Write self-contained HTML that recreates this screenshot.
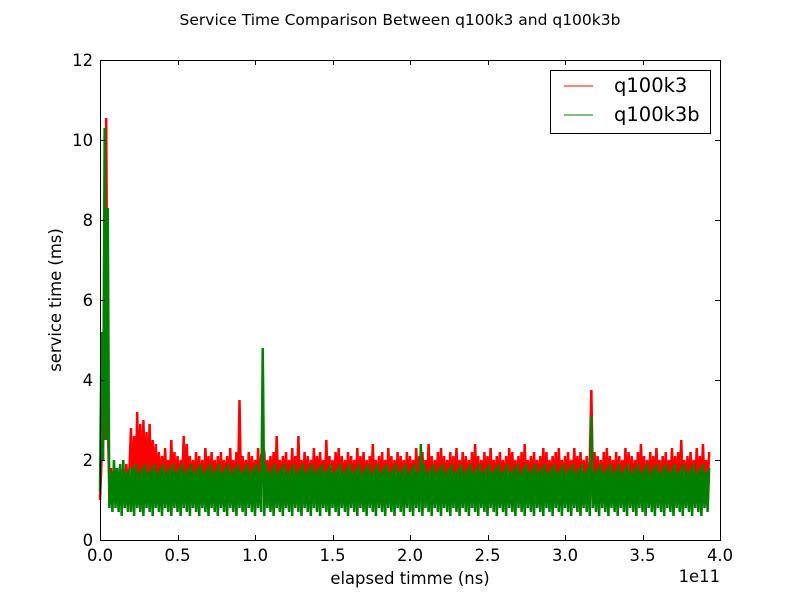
<!DOCTYPE html>
<html><head><meta charset="utf-8"><style>
body{margin:0;background:#fff;}
svg{font-family:"DejaVu Sans","Liberation Sans",sans-serif;}
</style></head><body>
<svg id="chart" width="800" height="600">
<rect width="800" height="600" fill="#fff"/>
<text x="400" y="25" text-anchor="middle" font-size="15.5">Service Time Comparison Between q100k3 and q100k3b</text>
<g id="series"></g>
<g id="axes"></g>
<text x="410" y="584" text-anchor="middle" font-size="16.4">elapsed timme (ns)</text>
<text x="61" y="300" text-anchor="middle" font-size="16.4" transform="rotate(-90 61 300)">service time (ms)</text>
<text x="720" y="582" text-anchor="end" font-size="16.4">1e11</text>
<g>
<rect x="550.5" y="70.5" width="160" height="63" fill="#fff" stroke="#000"/>
<line x1="564" y1="86" x2="593" y2="86" stroke="#f00"/>
<text x="614" y="92" font-size="19.5">q100k3</text>
<line x1="564" y1="115" x2="593" y2="115" stroke="#008000"/>
<text x="614" y="121" font-size="19.5">q100k3b</text>
</g>
</svg>
<script>
const timeStep = 0.01; // units of 1e11 ns
const xTicks = [0,0.5,1.0,1.5,2.0,2.5,3.0,3.5,4.0];
const xTickLabels = ["0.0","0.5","1.0","1.5","2.0","2.5","3.0","3.5","4.0"];
const yTicks = [0,2,4,6,8,10,12];
const redValues = [
1.0,2.0,5.0,2.5,10.55,3.0,1.3,1.8,1.3,1.7,1.3,1.8,1.3,1.7,1.3,1.8,1.3,1.9,1.3,1.8,
2.8,1.3,2.6,1.3,3.2,1.3,2.9,1.3,3.0,1.3,2.7,1.3,2.9,1.3,2.5,1.3,2.4,1.3,2.2,1.3,
2.1,1.3,2.3,1.3,2.0,1.3,2.5,1.3,2.2,1.3,2.1,1.3,2.0,1.3,2.6,1.3,2.4,1.3,2.1,1.3,
2.0,1.3,2.2,1.3,2.1,1.3,2.0,1.3,2.3,1.3,2.1,1.3,2.2,1.3,2.0,1.3,2.1,1.3,2.2,1.3,
2.0,1.3,2.1,1.3,2.3,1.3,2.0,1.3,2.2,1.3,3.5,1.3,2.1,1.3,2.0,1.3,2.2,1.3,2.1,1.3,
2.0,1.3,2.3,1.3,2.1,2.3,2.2,1.3,2.0,1.3,2.1,1.3,2.2,1.3,2.6,1.3,2.0,1.3,2.1,1.3,
2.2,1.3,2.0,1.3,2.3,1.3,2.1,1.3,2.6,1.3,2.0,1.3,2.2,1.3,2.1,1.3,2.0,1.3,2.3,1.3,
2.1,1.3,2.2,1.3,2.0,1.3,2.5,1.3,2.1,1.3,2.0,1.3,2.2,1.3,2.3,1.3,2.1,1.3,2.0,1.3,
2.2,1.3,2.1,1.3,2.0,1.3,2.3,1.3,2.1,1.3,2.2,1.3,2.0,1.3,2.1,1.3,2.4,1.3,2.0,1.3,
2.1,1.3,2.2,1.3,2.0,1.3,2.3,1.3,2.1,1.3,2.0,1.3,2.2,1.3,2.1,1.3,2.0,1.3,2.2,1.3,
2.1,1.3,2.0,1.3,2.3,1.3,2.1,1.3,2.2,1.3,2.0,1.3,2.4,1.3,2.1,1.3,2.0,1.3,2.2,1.3,
2.3,1.3,2.1,1.3,2.0,1.3,2.2,1.3,2.1,1.3,2.3,1.3,2.0,1.3,2.2,1.3,2.1,1.3,2.0,1.3,
2.2,1.3,2.4,1.3,2.1,1.3,2.0,1.3,2.2,1.3,2.1,1.3,2.3,1.3,2.0,1.3,2.1,1.3,2.2,1.3,
2.0,1.3,2.1,1.3,2.3,1.3,2.2,1.3,2.0,1.3,2.1,1.3,2.2,1.3,2.4,1.3,2.0,1.3,2.1,1.3,
2.2,1.3,2.0,1.3,2.1,1.3,2.3,1.3,2.2,1.3,2.0,1.3,2.1,1.3,2.2,1.3,2.3,1.3,2.0,1.3,
2.1,1.3,2.2,1.3,2.0,1.3,2.3,1.3,2.1,1.3,2.2,1.3,2.0,1.3,2.1,1.3,2.0,3.75,1.3,2.2,
1.3,2.1,1.3,2.0,1.3,2.2,1.3,2.3,1.3,2.1,1.3,2.0,1.3,2.2,1.3,2.1,1.3,2.0,1.3,2.3,
1.3,2.2,1.3,2.1,1.3,2.0,1.3,2.2,1.3,2.4,1.3,2.1,1.3,2.0,1.3,2.2,1.3,2.1,1.3,2.3,
1.3,2.0,1.3,2.1,1.3,2.2,1.3,2.0,1.3,2.3,1.3,2.1,1.3,2.2,1.3,2.5,1.3,2.0,1.3,2.1,
1.3,2.2,1.3,2.0,1.3,2.3,1.3,2.1,1.3,2.4,1.3,2.0,1.3,2.2];
const greenValues = [
1.2,5.2,2.0,10.3,2.5,8.3,0.8,1.7,0.7,2.0,0.8,1.8,0.7,1.9,0.6,2.0,0.8,1.7,0.7,1.8,
0.7,1.8,0.6,1.9,0.8,1.7,0.7,1.8,0.6,1.9,0.8,1.7,0.7,1.8,0.6,1.9,0.8,1.7,0.7,1.8,
0.6,1.9,0.8,1.7,0.7,1.8,0.6,1.9,0.8,1.7,0.7,1.8,0.6,1.9,0.8,1.7,0.7,1.8,0.6,1.9,
0.8,1.7,0.7,1.8,0.6,1.9,0.8,1.7,0.7,1.8,0.6,1.9,0.8,1.7,0.7,1.8,0.6,1.9,0.8,1.7,
0.7,1.8,0.6,1.9,0.8,1.7,0.7,1.8,0.6,1.9,0.8,1.7,0.7,1.8,0.6,1.9,0.8,1.7,0.7,1.8,
0.6,1.9,0.8,1.7,0.7,4.8,0.6,1.9,0.8,1.7,0.7,1.8,0.6,1.9,0.8,1.7,0.7,1.8,0.6,1.9,
0.8,1.7,0.7,1.8,0.6,1.9,0.8,1.7,0.7,1.8,0.6,1.9,0.8,1.7,0.7,1.8,0.6,1.9,0.8,1.7,
0.7,1.8,0.6,1.9,0.8,1.7,0.7,1.8,0.6,1.9,0.8,1.7,0.7,1.8,0.6,1.9,0.8,1.7,0.7,1.8,
0.6,1.9,0.8,1.7,0.7,1.8,0.6,1.9,0.8,1.7,0.7,1.8,0.6,1.9,0.8,1.7,0.7,1.8,0.6,1.9,
0.8,1.7,0.7,1.8,0.6,1.9,0.8,1.7,0.7,1.8,0.6,1.9,0.8,1.7,0.7,1.8,0.6,1.9,0.8,1.7,
0.7,1.8,0.6,1.9,0.8,1.7,0.7,2.4,0.6,1.9,0.8,1.7,0.7,1.8,0.6,1.9,0.8,1.7,0.7,1.8,
0.6,1.9,0.8,1.7,0.7,1.8,0.6,1.9,0.8,1.7,0.7,1.8,0.6,1.9,0.8,1.7,0.7,1.8,0.6,1.9,
0.8,1.7,0.7,1.8,0.6,1.9,0.8,1.7,0.7,1.8,0.6,1.9,0.8,1.7,0.7,1.8,0.6,1.9,0.8,1.7,
0.7,1.8,0.6,1.9,0.8,1.7,0.7,1.8,0.6,1.9,0.8,1.7,0.7,1.8,0.6,1.9,0.8,1.7,0.7,1.8,
0.6,1.9,0.8,1.7,0.7,1.8,0.6,1.9,0.8,1.7,0.7,1.8,0.6,1.9,0.8,1.7,0.7,1.8,0.6,1.9,
0.8,1.7,0.7,1.8,0.6,1.9,0.8,1.7,0.7,1.8,0.6,1.9,0.8,1.7,0.7,1.8,0.6,3.1,0.8,1.7,
0.7,1.8,0.6,1.9,0.8,1.7,0.7,1.8,0.6,1.9,0.8,1.7,0.7,1.8,0.6,1.9,0.8,1.7,0.7,1.8,
0.6,1.9,0.8,1.7,0.7,1.8,0.6,1.9,0.8,1.7,0.7,1.8,0.6,1.9,0.8,1.7,0.7,1.8,0.6,1.9,
0.8,1.7,0.7,1.8,0.6,1.9,0.8,1.7,0.7,1.8,0.6,1.9,0.8,1.7,0.7,1.8,0.6,1.9,0.8,1.7,
0.7,1.8,0.6,1.9,0.8,1.7,0.7,1.8,0.6,1.9,0.8,1.7,0.7,1.8];

const L=100,R=720,T=60,B=540;
const xMax=4.0,yMax=12;
function px(t){return L+t/xMax*(R-L);}
function py(v){return B-v/yMax*(B-T);}
const NS="http://www.w3.org/2000/svg";
const series=document.getElementById('series');
function drawSeries(vals,color,name){
  const p=document.createElementNS(NS,'path');
  let d='';
  vals.forEach((v,i)=>{d+=(i?'L':'M')+px(i*timeStep).toFixed(2)+' '+py(v).toFixed(2);});
  p.setAttribute('d',d);
  p.setAttribute('fill','none');
  p.setAttribute('stroke',color);
  p.setAttribute('stroke-width','2.5');
  p.setAttribute('stroke-linejoin','bevel');
  
  
  series.appendChild(p);
}
drawSeries(redValues,'#f00','series-q100k3');
drawSeries(greenValues,'#008000','series-q100k3b');

const axes=document.getElementById('axes');
const frame=document.createElementNS(NS,'rect');
frame.setAttribute('x',L+0.5);frame.setAttribute('y',T+0.5);
frame.setAttribute('width',R-L);frame.setAttribute('height',B-T);
frame.setAttribute('fill','none');frame.setAttribute('stroke','#000');


axes.appendChild(frame);
function line(x1,y1,x2,y2){const l=document.createElementNS(NS,'line');l.setAttribute('x1',x1);l.setAttribute('y1',y1);l.setAttribute('x2',x2);l.setAttribute('y2',y2);l.setAttribute('stroke','#000');axes.appendChild(l);return l;}
function text(x,y,s,anchor,name){const t=document.createElementNS(NS,'text');t.setAttribute('x',x);t.setAttribute('y',y);t.setAttribute('text-anchor',anchor);t.setAttribute('font-size','16.4');t.textContent=s;


axes.appendChild(t);}
xTicks.forEach((v,i)=>{const x=Math.round(px(v))+0.5;line(x,B,x,B-5);line(x,T,x,T+5);text(px(v),B+21,xTickLabels[i],'middle','x-tick-label');});
yTicks.forEach(v=>{const y=Math.round(py(v))+0.5;line(L,y,L+5,y);line(R,y,R-5,y);text(L-7,py(v)+6,String(v),'end','y-tick-label');});
</script>
</body></html>
